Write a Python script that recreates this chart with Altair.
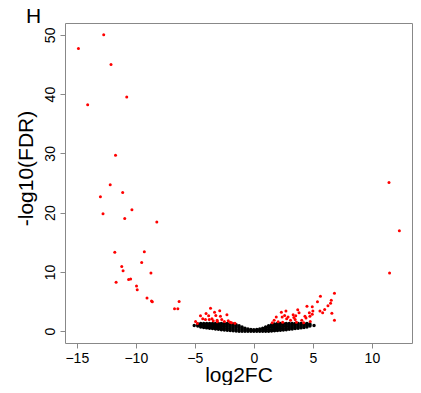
import altair as alt
import pandas as pd

# Significant genes (red)
red_x = [-14.86, -12.72, -12.1, -10.77, -14.08, -11.72, -12.17, -11.11, -13.0, -12.78,
         -10.33, -10.94, -8.22, -11.78, -9.28, -9.5, -11.19, -11.08, -8.72, -11.67,
         -10.61, -10.44, -9.94, -9.88, -9.05, -8.67, -8.6, -6.72, -6.44, -6.33,
         11.45, 12.33, 11.5, 6.83, 5.64, 5.39, 6.56, 6.5, 6.28, 6.0,
         5.83, 5.6, 6.61, 6.83, 4.95, 4.5, 5.0, 4.7, 4.75, 4.42,
         3.72, 3.83, 3.55, 3.39, 2.72, 2.33, 2.9, 2.4, 1.9, 2.06,
         2.61, 1.72, 1.56, 2.78, 3.33, 3.5, 4.06, 4.33, 4.95, 3.11,
         3.61, 4.22, 4.78, 2.44,
         -4.52, -4.94, -4.78, -4.33, -4.05, -3.67, -3.83, -3.33, -3.22, -2.89,
         -2.83, -2.28, -4.1, -3.78, -3.55, -3.44, -3.11, -2.72, -2.5, -2.17,
         -1.89, -1.6, -3.1, -2.0]
red_y = [47.7, 50.0, 45.0, 39.5, 38.2, 29.7, 24.7, 23.4, 22.7, 19.8,
         20.5, 19.0, 18.4, 13.3, 13.4, 11.6, 10.9, 10.2, 9.8, 8.25,
         8.7, 8.8, 7.6, 7.0, 5.6, 5.1, 4.95, 3.77, 3.77, 5.0,
         25.1, 16.95, 9.8, 6.4, 5.9, 4.95, 5.2, 4.7, 4.3, 3.65,
         3.1, 3.4, 3.0, 1.85, 4.1, 4.2, 3.4, 3.1, 2.5, 2.2,
         3.6, 3.1, 2.6, 2.3, 3.4, 3.2, 2.4, 2.4, 2.4, 1.6,
         2.64, 1.85, 1.4, 2.09, 2.76, 1.97, 1.85, 2.53, 2.86, 1.85,
         1.52, 1.4, 1.63, 1.52,
         2.6, 1.63, 1.3, 2.1, 2.98, 3.85, 2.6, 3.2, 2.64, 3.43,
         2.53, 2.76, 1.97, 1.97, 2.09, 1.75, 1.85, 1.97, 1.63, 1.75,
         1.4, 1.35, 1.6, 1.5]

# Non-significant genes (black), read column by column across the dense band
black_right = {
    0.0: [0.0, 0.12, 0.25], 0.25: [0.0, 0.15, 0.3], 0.5: [0.0, 0.18, 0.36],
    0.75: [0.0, 0.25, 0.5], 1.0: [0.0, 0.25, 0.5, 0.7], 1.25: [0.0, 0.3, 0.6, 0.9],
    1.5: [0.02, 0.3, 0.6, 0.85, 1.1], 1.75: [0.05, 0.35, 0.65, 0.95, 1.2],
    2.0: [0.1, 0.4, 0.7, 1.0, 1.3], 2.25: [0.15, 0.45, 0.75, 1.05, 1.3],
    2.5: [0.2, 0.5, 0.8, 1.05, 1.3], 2.75: [0.25, 0.5, 0.8, 1.05, 1.3],
    3.0: [0.3, 0.55, 0.8, 1.05, 1.3], 3.25: [0.35, 0.6, 0.85, 1.1, 1.3],
    3.5: [0.45, 0.7, 0.95, 1.15, 1.3], 3.75: [0.5, 0.75, 1.0, 1.3],
    4.0: [0.55, 0.8, 1.05, 1.3], 4.25: [0.6, 0.85, 1.1, 1.3],
    4.5: [0.7, 0.95, 1.15, 1.3], 4.75: [0.85, 1.05, 1.2], 5.1: [0.95],
}
black_left = {
    -0.25: [0.0, 0.15, 0.3], -0.5: [0.0, 0.18, 0.36], -0.75: [0.0, 0.25, 0.5],
    -1.0: [0.0, 0.25, 0.5, 0.7], -1.25: [0.0, 0.3, 0.6, 0.9],
    -1.5: [0.02, 0.3, 0.6, 0.85, 1.1], -1.75: [0.05, 0.35, 0.65, 0.95, 1.2],
    -2.0: [0.1, 0.4, 0.7, 1.0, 1.3], -2.25: [0.15, 0.45, 0.75, 1.05, 1.3],
    -2.5: [0.2, 0.5, 0.8, 1.05, 1.3], -2.75: [0.25, 0.5, 0.8, 1.05, 1.3],
    -3.0: [0.3, 0.55, 0.8, 1.05, 1.3], -3.25: [0.35, 0.6, 0.85, 1.1, 1.3],
    -3.5: [0.45, 0.7, 0.95, 1.15, 1.3], -3.75: [0.5, 0.75, 1.0, 1.3],
    -4.0: [0.55, 0.8, 1.05, 1.3], -4.25: [0.6, 0.85, 1.1, 1.3],
    -4.5: [0.7, 0.95, 1.15, 1.3], -4.75: [0.85, 1.05, 1.2], -5.05: [0.95],
}

x_ticks = [-15, -10, -5, 0, 5, 10]
y_ticks = [0, 10, 20, 30, 40, 50]

rows = []
for cols in (black_left, black_right):
    for xv, ys in cols.items():
        for yv in ys:
            rows.append({"x": xv, "y": yv, "grp": "ns"})
for xv, yv in zip(red_x, red_y):
    rows.append({"x": xv, "y": yv, "grp": "sig"})
df = pd.DataFrame(rows)

FONT = "Liberation Sans"

xenc = alt.X("x:Q", scale=alt.Scale(domain=[-16, 13.4], nice=False, zero=False),
             axis=alt.Axis(values=x_ticks, title="log2FC", grid=False, domain=False,
                           tickColor="#888888", tickSize=5, labelFontSize=14,
                           labelColor="black", labelPadding=3, labelFont=FONT,
                           titleFont=FONT, titleFontSize=21, titleFontWeight="normal",
                           titleColor="black", titleY=38, titleBaseline="alphabetic"))
yenc = alt.Y("y:Q", scale=alt.Scale(domain=[-2, 52], nice=False, zero=False),
             axis=alt.Axis(values=y_ticks, title="-log10(FDR)", grid=False, domain=False,
                           tickColor="#888888", tickSize=5, labelFontSize=14,
                           labelColor="black", labelPadding=3, labelFont=FONT,
                           labelAngle=270, labelAlign="center", labelBaseline="bottom",
                           titleFont=FONT, titleFontSize=21, titleFontWeight="normal",
                           titleColor="black", titleAngle=270, titleX=-33, titleY=145,
                           titleAlign="center", titleBaseline="alphabetic"))

black_pts = alt.Chart(df).transform_filter(alt.datum.grp == "ns").mark_circle(
    opacity=1, size=12, color="black").encode(x=xenc, y=yenc)
red_pts = alt.Chart(df).transform_filter(alt.datum.grp == "sig").mark_circle(
    opacity=1, size=9, color="#ff0000").encode(x=xenc, y=yenc)

label = alt.Chart(pd.DataFrame({"t": ["H"]})).mark_text(
    align="left", baseline="alphabetic", fontSize=21, font=FONT, color="black"
).encode(x=alt.value(-39), y=alt.value(0), text="t:N")

chart = alt.layer(black_pts, red_pts, label).properties(
    width=347, height=320,
    autosize=alt.AutoSizeParams(type="none"),
    padding={"left": 57, "top": 15, "right": 1, "bottom": 42},
).configure_view(stroke="#888888", strokeWidth=1)

chart.save("out.html", embed_options={"renderer": "svg", "actions": False})
